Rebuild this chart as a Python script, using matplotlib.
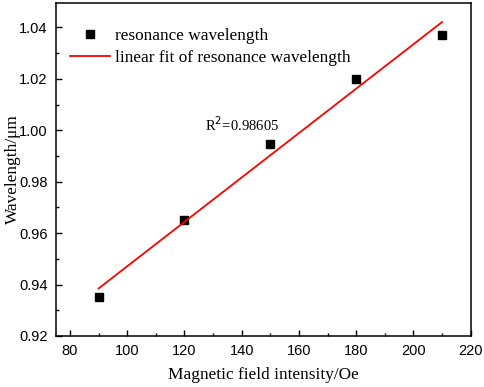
import numpy as np
import matplotlib.pyplot as plt
from matplotlib.ticker import MultipleLocator

# data
field = [90, 120, 150, 180, 210]
wavelength = [0.935, 0.965, 0.9945, 1.020, 1.037]
r2_text = "R$^2$=0.98605"

serif = ['Liberation Serif', 'DejaVu Serif']
sans = ['Liberation Sans', 'DejaVu Sans']

fig = plt.figure(figsize=(4.84, 3.87), dpi=100)
ax = fig.add_axes([0.1157, 0.1318, 0.8568, 0.8604])

# linear fit
k, b = np.polyfit(field, wavelength, 1)
xs = np.array([field[0], field[-1]])

ax.plot(field, wavelength, 's', color='black', markersize=5.2,
        label='resonance wavelength')
ax.plot(xs, k * xs + b, '-', color='#ff0000', linewidth=1.3,
        label='linear fit of resonance wavelength')

ax.text(127.2, 1.0023, r2_text, fontsize=10.5, family=serif,
        ha='left', va='center')

ax.set_xlim(75.1, 220)
ax.set_ylim(0.92, 1.0495)
ax.xaxis.set_major_locator(MultipleLocator(20))
ax.xaxis.set_minor_locator(MultipleLocator(10))
ax.yaxis.set_major_locator(MultipleLocator(0.02))
ax.yaxis.set_minor_locator(MultipleLocator(0.01))
ax.yaxis.set_major_formatter(plt.FormatStrFormatter('%.2f'))
ax.tick_params(which='both', direction='in', top=False, right=False,
               labelsize=10.5, width=1)
ax.tick_params(which='major', length=4.5, pad=6)
ax.tick_params(which='minor', length=2.5)
for lab in ax.get_xticklabels() + ax.get_yticklabels():
    lab.set_family(sans)
for s in ax.spines.values():
    s.set_linewidth(1.1)

ax.set_xlabel('Magnetic field intensity/Oe', fontsize=12.4, family=serif,
              labelpad=6)
ax.set_ylabel('Wavelength/μm', fontsize=12.4, family=serif)
ax.yaxis.set_label_coords(-0.084, 0.5)

ax.legend(loc='upper left', frameon=False, prop={'family': serif, 'size': 12.4},
          handlelength=2.3, handletextpad=0.3, borderaxespad=0, borderpad=0,
          labelspacing=0.32, bbox_to_anchor=(0.034, 0.925))

fig.savefig('out.png', dpi=100)
